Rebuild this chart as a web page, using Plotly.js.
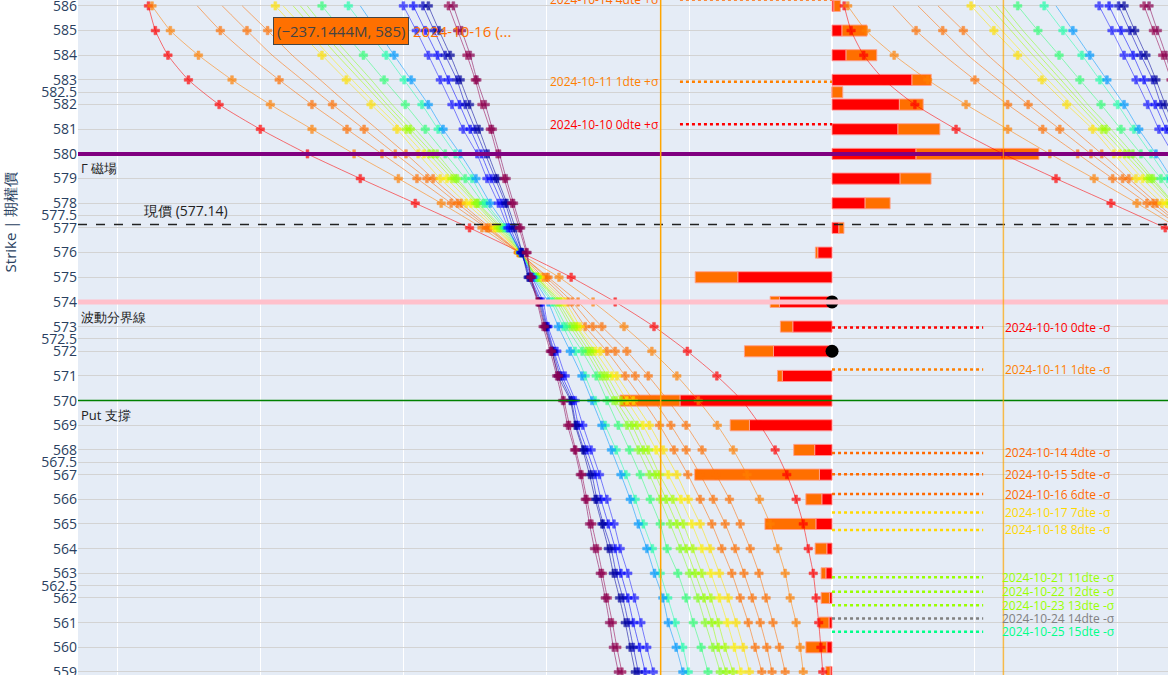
<!DOCTYPE html>
<html>
<head>
<meta charset="utf-8">
<script src="https://cdn.plot.ly/plotly-3.0.1.min.js"></script>
<style>
html, body { margin: 0; padding: 0; overflow: hidden; background: #fff; }
#chart { position: absolute; left: 0; top: -340px; width: 1300px; height: 1164px; }
</style>
</head>
<body>
<div id="chart"></div>
<script>
// strikes, top to bottom
const strikes = [586, 585, 584, 583, 582, 581, 580, 579, 578, 577, 576, 575, 574, 573,
                 572, 571, 570, 569, 568, 567, 566, 565, 564, 563, 562, 561, 560, 559];
const halfStrikes = [582.5, 577.5, 572.5, 567.5, 562.5];

// GEX curves (M), one per expiry, same order as strikes
const gex1010 = [-287.2,-284.3,-279.0,-270.4,-257.5,-240.2,-220.4,-198.2,-175.1,-152.3,-130.6,-109.6,-91.1,-74.8,-60.8,-48.4,-37.8,-30.2,-23.9,-19.0,-15.1,-12.1,-10.0,-7.9,-6.7,-5.6,-4.7,-3.9];
const gex1011 = [-285.7,-278.0,-266.2,-252.1,-236.0,-218.5,-200.8,-182.2,-164.2,-147.1,-131.9,-114.7,-100.4,-87.4,-75.7,-65.2,-56.2,-48.2,-41.5,-35.7,-30.5,-26.0,-22.8,-19.7,-17.6,-15.1,-13.4,-12.1];
const gex1014 = [-266.7,-257.0,-245.3,-232.3,-218.5,-203.8,-189.1,-174.4,-160.0,-145.3,-131.7,-119.3,-106.7,-96.7,-86.2,-77.2,-68.9,-61.3,-54.6,-48.7,-43.1,-38.6,-34.4,-30.7,-27.7,-24.8,-22.1,-19.7];
const gex1015 = [-256.2,-245.8,-235.2,-222.6,-209.9,-196.6,-183.5,-170.2,-157.4,-144.5,-131.5,-120.1,-109.2,-100.5,-91.1,-82.7,-74.8,-67.7,-61.3,-55.4,-49.9,-44.9,-40.7,-37.0,-33.5,-30.2,-27.4,-25.2];
const gex1016 = [-247.8,-237.1444,-226.8,-215.0,-203.3,-191.1,-179.0,-167.6,-155.8,-143.6,-131.5,-121.4,-110.9,-103.7,-94.6,-86.9,-79.4,-72.5,-66.4,-60.6,-55.4,-50.5,-46.3,-42.1,-38.6,-35.2,-32.3,-29.5];
const gex1017 = [-233.9,-224.3,-214.3,-204.1,-193.7,-182.8,-173.9,-164.6,-153.7,-142.0,-131.3,-122.6,-112.1,-105.8,-97.4,-90.4,-83.5,-76.7,-70.9,-65.2,-60.4,-55.4,-51.2,-47.3,-43.6,-40.3,-37.3,-34.7];
const gex1018 = [-230.6,-220.9,-211.3,-201.6,-191.5,-181.0,-171.4,-161.8,-151.7,-141.1,-131.3,-123.5,-113.4,-107.1,-99.5,-92.5,-86.2,-79.5,-73.9,-68.8,-63.5,-58.9,-54.7,-50.9,-47.3,-44.0,-41.0,-38.3];
const gex1021 = [-226.4,-217.1,-207.9,-198.2,-188.6,-178.9,-169.3,-159.7,-149.9,-140.3,-131.0,-123.9,-114.2,-107.5,-100.8,-94.5,-88.6,-82.0,-77.2,-72.5,-66.9,-62.5,-58.5,-54.7,-50.9,-47.8,-44.9,-41.6];
const gex1022 = [-223.4,-214.6,-205.4,-196.1,-186.9,-177.2,-167.6,-158.3,-149.1,-139.4,-131.0,-123.9,-115.1,-108.8,-102.1,-96.0,-90.7,-84.1,-79.3,-74.3,-69.7,-65.2,-61.3,-57.5,-53.8,-50.5,-47.8,-44.5];
const gex1023 = [-220.5,-212.1,-202.9,-193.6,-184.8,-175.1,-165.9,-157.4,-148.7,-138.6,-130.8,-124.3,-115.9,-110.0,-103.3,-97.4,-92.0,-86.2,-81.4,-76.7,-72.2,-68.0,-63.8,-59.9,-56.4,-53.3,-50.1,-47.0];
const gex1024 = [-214.3,-205.8,-196.9,-188.2,-179.3,-170.9,-162.5,-154.1,-146.5,-137.8,-130.6,-124.7,-117.2,-111.7,-105.0,-99.1,-94.5,-89.8,-85.1,-80.6,-76.4,-72.2,-69.3,-64.8,-61.3,-58.3,-55.0,-52.1];
const gex1025 = [-203.2,-195.3,-187.3,-179.8,-172.3,-165.5,-158.3,-151.3,-145.3,-137.1,-130.6,-125.2,-118.0,-113.0,-107.9,-103.7,-99.5,-95.3,-90.7,-86.6,-82.7,-79.3,-75.5,-72.2,-69.0,-65.9,-62.7,-60.4];
const gexFar1 = [-198.2,-191.1,-184.0,-176.8,-169.6,-163.4,-156.2,-149.6,-143.6,-136.5,-130.6,-125.6,-119.3,-115.0,-110.0,-105.1,-100.9,-96.7,-92.7,-88.7,-84.8,-81.4,-77.8,-74.6,-71.1,-68.8,-65.5,-62.7];
const gexFar2 = [-180.1,-174.7,-169.6,-164.6,-159.7,-155.0,-149.2,-145.0,-140.2,-136.1,-131.0,-126.0,-121.4,-119.3,-115.6,-112.1,-107.9,-104.7,-101.2,-97.7,-94.6,-91.6,-89.0,-85.8,-83.0,-80.3,-77.8,-75.1];
const gexFar3 = [-175.9,-170.9,-165.8,-161.2,-156.5,-152.0,-147.4,-143.2,-138.7,-135.2,-130.6,-126.8,-122.2,-119.7,-116.8,-113.4,-108.8,-106.6,-103.0,-99.5,-97.1,-94.0,-91.1,-88.7,-85.8,-83.5,-80.9,-78.5];
const gexFar4 = [-171.9,-167.2,-162.5,-157.6,-154.1,-149.9,-145.7,-141.5,-137.3,-134.0,-130.2,-127.3,-122.6,-120.1,-117.2,-114.2,-109.6,-107.5,-104.2,-100.9,-98.8,-96.1,-92.8,-90.7,-87.9,-85.6,-83.5,-81.4];
const gexFar5 = [-169.6,-165.1,-160.4,-156.2,-152.3,-148.3,-144.5,-140.6,-136.6,-133.1,-130.2,-127.7,-123.1,-120.5,-117.6,-115.1,-110.0,-107.9,-104.7,-101.9,-99.5,-96.7,-94.0,-91.9,-89.3,-86.9,-84.8,-82.7];
const gexFar6 = [-161.2,-157.3,-153.4,-149.9,-147.1,-143.6,-140.7,-137.8,-134.6,-131.5,-128.5,-126.4,-123.5,-120.8,-117.8,-114.9,-112.6,-110.3,-107.7,-105.1,-103.0,-100.9,-98.6,-96.5,-94.4,-92.3,-90.4,-88.3];
const gexFar7 = [-159.1,-155.6,-152.0,-149.2,-145.7,-142.7,-139.7,-136.9,-133.8,-130.8,-128.1,-126.6,-123.9,-121.4,-118.4,-115.7,-113.2,-111.1,-108.2,-105.8,-103.7,-101.9,-99.8,-97.4,-95.3,-93.5,-91.9,-89.8];

const curveNames = ['2024-10-10', '2024-10-11', '2024-10-14', '2024-10-15', '2024-10-16', '2024-10-17',
                    '2024-10-18', '2024-10-21', '2024-10-22', '2024-10-23', '2024-10-24', '2024-10-25',
                    'far 1', 'far 2', 'far 3', 'far 4', 'far 5', 'far 6', 'far 7'];
const curveValues = [gex1010, gex1011, gex1014, gex1015, gex1016, gex1017, gex1018, gex1021, gex1022,
                     gex1023, gex1024, gex1025, gexFar1, gexFar2, gexFar3, gexFar4, gexFar5, gexFar6, gexFar7];
const curveColors = ['#ff0000', '#ff8000', '#ff7000', '#ff7000', '#ff7000', '#ffe000', '#fff000',
                     '#aaff00', '#99ff00', '#88ff22', '#33ff77', '#22ffaa', '#0099ff',
                     '#1a1aff', '#0000ff', '#0000c0', '#00009a', '#99004d', '#8a0050'];
// strikes an expiry does not list (no marker drawn there)
const unlisted = [[], [], [586, 584], [586, 584, 583], [586, 584, 583, 582, 581], [],
                  [586, 585, 584, 583, 582, 581], [586, 585, 584, 583, 582], [586, 585, 584, 583, 582],
                  [586, 585, 584, 583, 582, 581], [], [], [586], [], [], [], [], [], []];

// per-strike GEX bars (M)
const barStrikes = [586, 585, 584, 583, 582.5, 582, 581, 580, 579, 578, 577, 576, 575, 574, 573, 572,
                    571, 570, 569, 568, 567, 566, 565, 564, 563, 562, 561, 560, 559];
const bar0dte = [0.8, 4.2, 5.9, 33.6, 0, 28.3, 27.7, 35.3, 28.6, 13.9, 2.9, -6.0, -39.6, -22.1, -16.5, -24.6,
                 -20.9, -63.9, -34.7, -7.3, -5.3, -4.3, -6.8, -2.2, -2.6, -1.1, -1.3, -2.2, -0.8];
const bar1dte = [2.7, 10.5, 12.9, 8.1, 4.5, 10.0, 17.6, 51.6, 13.0, 10.5, 2.1, -1.0, -17.9, -3.9, -5.2, -12.2,
                 -2.0, -25.2, -8.1, -8.8, -52.4, -6.7, -21.4, -4.9, -2.0, -3.5, -4.2, -8.8, -1.8];
const dotStrikes = [574, 572];

// key levels
const spot = 577.14;
const gammaLevel = 580;
const volLevel = 574;
const putSupport = 570;
const bandEdges = [-72, 72];

// sigma levels
const sigmaUpLevels = [581.2, 582.92, 586.26];
const sigmaUpText = ['2024-10-10 0dte +σ', '2024-10-11 1dte +σ', '2024-10-14 4dte +σ'];
const sigmaUpColors = ['#ff0000', '#ff8000', '#ff6a00'];
const sigmaDownLevels = [572.96, 571.26, 567.88, 567.02, 566.21, 565.46, 564.76, 562.84, 562.25, 561.71, 561.17, 560.63];
const sigmaDownText = ['2024-10-10 0dte -σ', '2024-10-11 1dte -σ', '2024-10-14 4dte -σ', '2024-10-15 5dte -σ',
                       '2024-10-16 6dte -σ', '2024-10-17 7dte -σ', '2024-10-18 8dte -σ', '2024-10-21 11dte -σ',
                       '2024-10-22 12dte -σ', '2024-10-23 13dte -σ', '2024-10-24 14dte -σ', '2024-10-25 15dte -σ'];
const sigmaDownColors = ['#ff0000', '#ff8000', '#ff6a00', '#ff6a00', '#ff6a00', '#ffd700', '#ffd700',
                         '#99ff00', '#99ff00', '#99ff00', '#808080', '#00ff88'];

function fade(hex, a) {
    const n = parseInt(hex.slice(1), 16);
    return 'rgba(' + (n >> 16) + ',' + ((n >> 8) & 255) + ',' + (n & 255) + ',' + a + ')';
}

let data = [];

// bars first so the curves sit on top
data.push({
    type: 'bar', orientation: 'h', name: '0dte', y: barStrikes, x: bar0dte, width: 0.45,
    marker: { color: '#ff0000', line: { color: 'rgba(255,150,150,0.9)', width: 1 } },
    showlegend: false
});
data.push({
    type: 'bar', orientation: 'h', name: '1dte', y: barStrikes, x: bar1dte, width: 0.45,
    marker: { color: '#ff6f00', line: { color: 'rgba(255,160,140,0.9)', width: 1 } },
    showlegend: false
});

// curves, drawn on x and again on the shifted x2
['x', 'x2'].forEach(function (ax) {
    curveValues.forEach(function (vals, i) {
        data.push({
            type: 'scatter', mode: 'lines+markers', name: curveNames[i],
            x: vals, y: strikes, xaxis: ax, yaxis: 'y',
            line: { color: fade(curveColors[i], 0.55), width: 1, shape: 'spline', smoothing: 0.6 },
            marker: {
                symbol: 'cross', color: curveColors[i],
                size: strikes.map(function (s) { return unlisted[i].indexOf(s) >= 0 ? 0 : 7; })
            },
            showlegend: false, hoverinfo: 'x+y+name'
        });
    });
});

data.push({
    type: 'scatter', mode: 'markers', x: dotStrikes.map(function () { return 0; }), y: dotStrikes,
    marker: { color: 'black', size: 13 }, showlegend: false, hoverinfo: 'skip'
});

let shapes = [
    { type: 'line', xref: 'paper', x0: 0, x1: 1, y0: gammaLevel, y1: gammaLevel, line: { color: '#800080', width: 4 } },
    { type: 'line', xref: 'paper', x0: 0, x1: 1, y0: volLevel, y1: volLevel, line: { color: 'pink', width: 5 } },
    { type: 'line', xref: 'paper', x0: 0, x1: 1, y0: putSupport, y1: putSupport, line: { color: 'green', width: 1.5 } },
    { type: 'line', xref: 'paper', x0: 0, x1: 1, y0: spot, y1: spot, line: { color: '#222', width: 1.5, dash: 'dash' } },
    { type: 'line', yref: 'paper', x0: bandEdges[0], x1: bandEdges[0], y0: 0, y1: 1, line: { color: '#ffa500', width: 1.5 } },
    { type: 'line', yref: 'paper', x0: bandEdges[1], x1: bandEdges[1], y0: 0, y1: 1, line: { color: '#ffa500', width: 1.5 }, opacity: 0.7 }
];

let annotations = [
    { xref: 'paper', x: 0, y: gammaLevel, text: 'Γ 磁場', showarrow: false, xanchor: 'left', yanchor: 'top', xshift: 1, yshift: -3, font: { size: 13, color: '#222' } },
    { xref: 'paper', x: 0, y: volLevel, text: '波動分界線', showarrow: false, xanchor: 'left', yanchor: 'top', xshift: 1, yshift: -4, font: { size: 13, color: '#222' } },
    { xref: 'paper', x: 0, y: putSupport, text: 'Put 支撐', showarrow: false, xanchor: 'left', yanchor: 'top', xshift: 1, yshift: -3, font: { size: 13, color: '#222' } },
    { x: -290, y: spot, text: '現價 (' + spot + ')', showarrow: false, xanchor: 'left', yanchor: 'bottom', yshift: 2, font: { size: 14, color: '#222' } },
    { x: gex1016[1], y: strikes[1], text: '(−237.1444M, 585)', showarrow: false, xanchor: 'left', xshift: 5,
      bgcolor: '#ff7000', bordercolor: '#444', borderwidth: 1, borderpad: 3, font: { size: 15, color: '#444' } },
    { x: gex1016[1], y: strikes[1], text: '2024-10-16 (...', showarrow: false, xanchor: 'left', xshift: 143,
      font: { size: 15, color: '#ff7000' } }
];

sigmaUpLevels.forEach(function (lv, i) {
    shapes.push({ type: 'line', x0: -63.9, x1: 0, y0: lv, y1: lv, line: { color: sigmaUpColors[i], width: 2.5, dash: 'dot' } });
    annotations.push({ x: -95.6, y: lv, text: sigmaUpText[i], showarrow: false, font: { size: 12, color: sigmaUpColors[i] } });
});
sigmaDownLevels.forEach(function (lv, i) {
    shapes.push({ type: 'line', x0: 0, x1: 63.5, y0: lv, y1: lv, line: { color: sigmaDownColors[i], width: 2.5, dash: 'dot' } });
    annotations.push({ x: 95, y: lv, text: sigmaDownText[i], showarrow: false, font: { size: 12, color: sigmaDownColors[i] } });
});

const xRange = [-316.8, 175.6];
const xShift = 292.3;

let layout = {
    width: 1300, height: 1164,
    margin: { l: 78, r: 50, t: 20, b: 60 },
    paper_bgcolor: 'white', plot_bgcolor: '#E5ECF6',
    font: { family: '"Open Sans", verdana, arial, sans-serif', color: '#2a3f5f' },
    barmode: 'relative', bargap: 0.2,
    showlegend: false, hovermode: 'closest',
    xaxis: {
        range: xRange, tick0: 0, dtick: 60, showgrid: true, gridcolor: 'white', gridwidth: 1,
        zeroline: true, zerolinecolor: 'white', zerolinewidth: 2, showticklabels: false
    },
    xaxis2: {
        overlaying: 'x', range: [xRange[0] - xShift, xRange[1] - xShift], visible: false, showgrid: false, zeroline: false
    },
    yaxis: {
        range: [555.27, 599.21], tickmode: 'array',
        tickvals: strikes.concat(halfStrikes), ticktext: strikes.concat(halfStrikes).map(String),
        gridcolor: '#d3d3d3', gridwidth: 1, zeroline: false,
        tickfont: { size: 14 },
        title: { text: 'Strike | 期權價', font: { size: 15 }, standoff: 28 }
    },
    shapes: shapes,
    annotations: annotations
};

Plotly.newPlot('chart', data, layout, { displayModeBar: false, staticPlot: true });
</script>
</body>
</html>
